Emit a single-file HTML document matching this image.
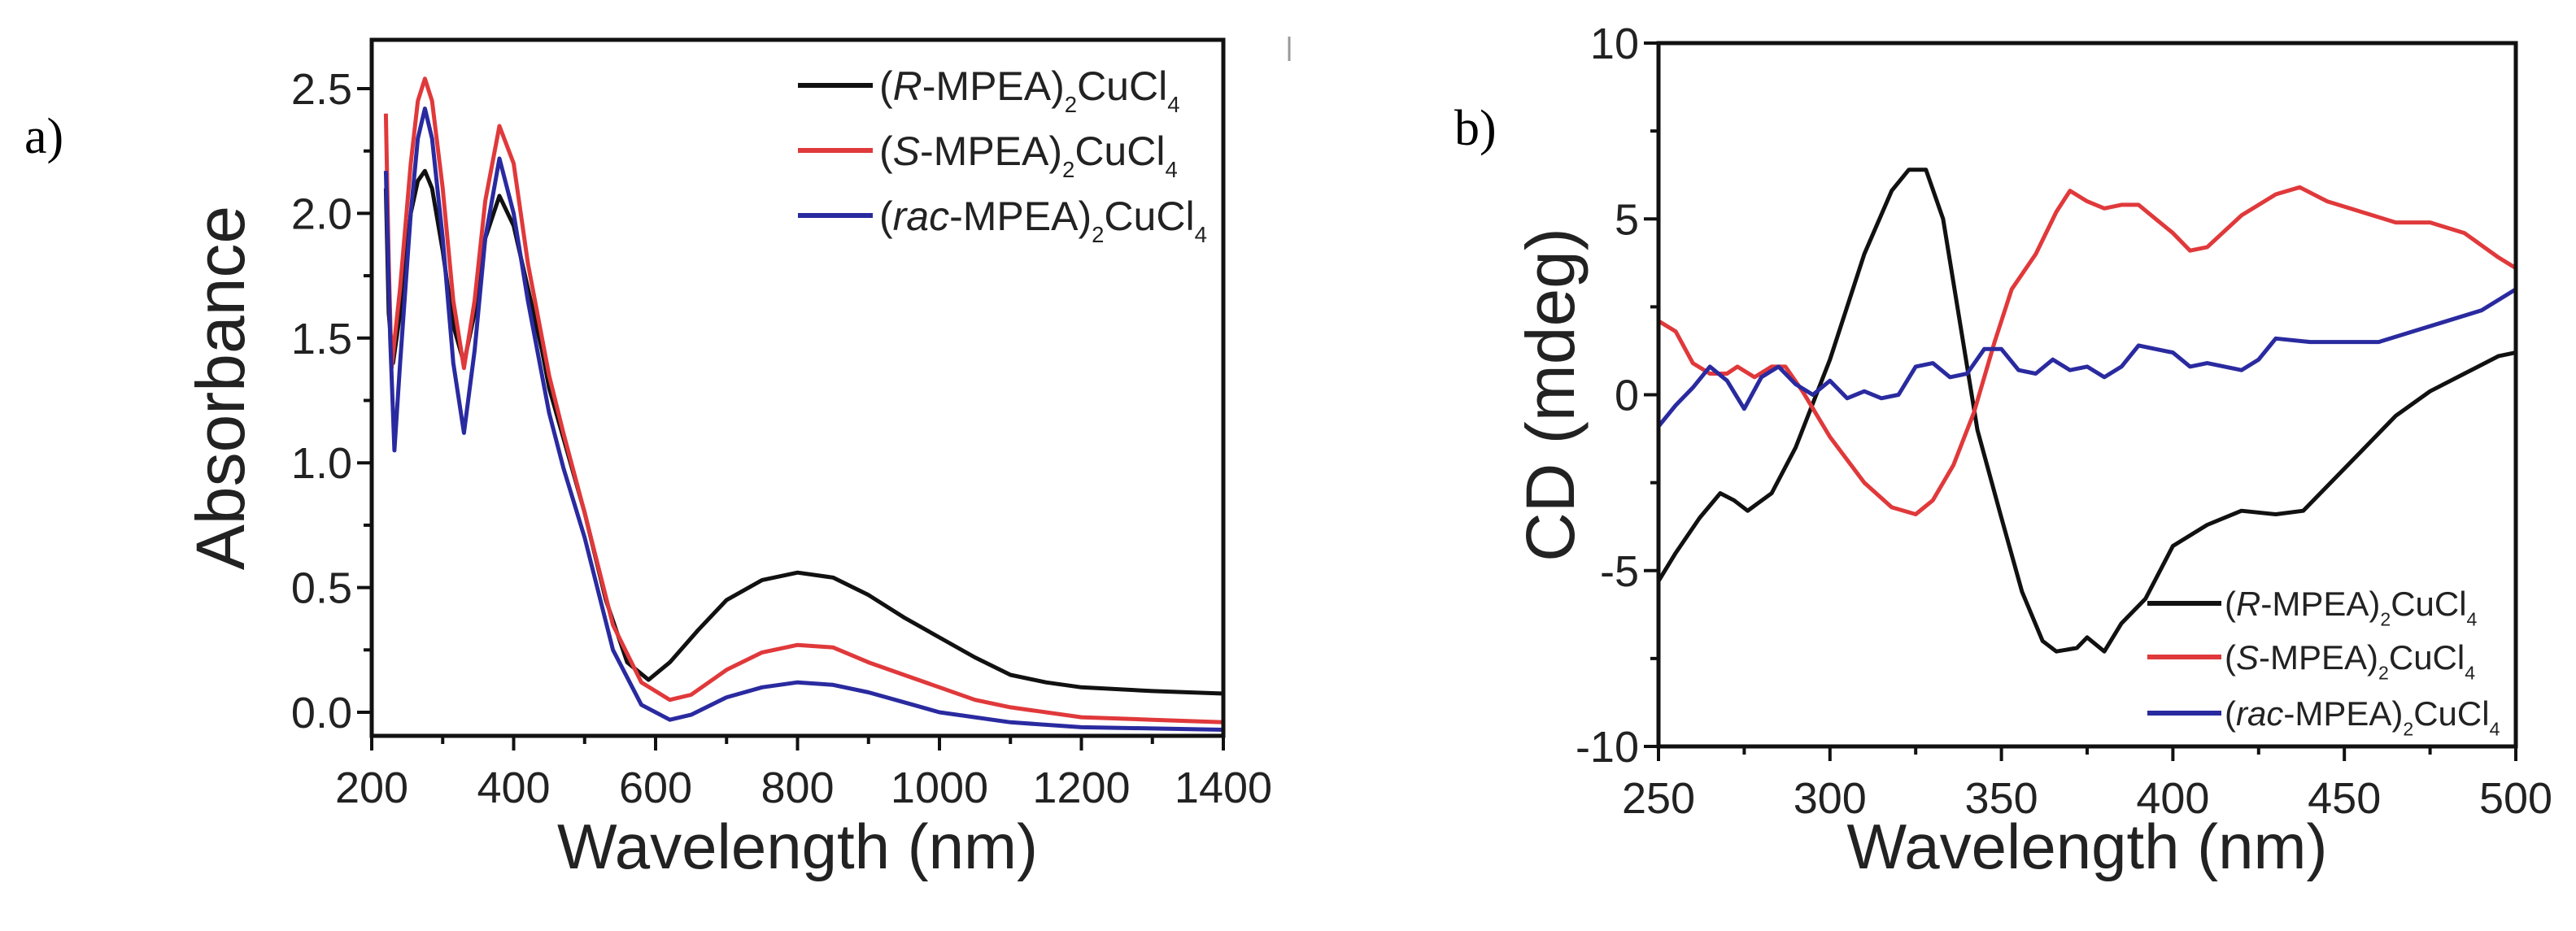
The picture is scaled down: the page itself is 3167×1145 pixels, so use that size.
<!DOCTYPE html>
<html><head><meta charset="utf-8"><style>
html,body{margin:0;padding:0;background:#fff;}
svg{display:block;font-family:"Liberation Sans",sans-serif;}
</style></head><body>
<svg id="fig" width="3167" height="1145" viewBox="0 0 3167 1145" xmlns="http://www.w3.org/2000/svg">
<text x="30" y="188" font-family="Liberation Serif,serif" font-size="62">a)</text>
<text x="1788" y="178" font-family="Liberation Serif,serif" font-size="62">b)</text>
<line x1="1585" y1="45" x2="1585" y2="75" stroke="#999" stroke-width="3"/>
<g id="pa"></g>
<g id="pb"></g>
</svg>
<script>
// Panel a data
const aTicksX = [200,400,600,800,1000,1200,1400];
const aTicksY = [0.0,0.5,1.0,1.5,2.0,2.5];
const aRx = [220,224,230,240,255,265,275,285,300,315,330,345,360,380,400,420,440,450,470,500,530,560,590,620,660,700,750,800,850,900,950,1000,1050,1100,1150,1200,1300,1400];
const aRy = [2.1,1.6,1.4,1.6,2.0,2.13,2.17,2.1,1.85,1.55,1.4,1.6,1.9,2.07,1.95,1.7,1.45,1.3,1.1,0.8,0.45,0.2,0.13,0.2,0.33,0.45,0.53,0.56,0.54,0.47,0.38,0.3,0.22,0.15,0.12,0.1,0.085,0.075];
const aSx = [220,224,228,240,255,265,275,285,300,315,330,345,360,380,400,420,440,450,470,500,540,580,620,650,700,750,800,850,900,950,1000,1050,1100,1200,1300,1400];
const aSy = [2.4,1.8,1.38,1.7,2.2,2.45,2.54,2.45,2.1,1.65,1.38,1.65,2.05,2.35,2.2,1.8,1.5,1.35,1.12,0.8,0.35,0.12,0.05,0.07,0.17,0.24,0.27,0.26,0.2,0.15,0.1,0.05,0.02,-0.02,-0.03,-0.04];
const aBx = [220,226,232,240,255,265,275,285,300,315,330,345,360,380,400,420,440,450,470,500,540,580,620,650,700,750,800,850,900,950,1000,1100,1200,1300,1400];
const aBy = [2.17,1.5,1.05,1.4,2.0,2.3,2.42,2.3,1.9,1.4,1.12,1.45,1.9,2.22,2.0,1.65,1.35,1.2,0.98,0.7,0.25,0.03,-0.03,-0.01,0.06,0.1,0.12,0.11,0.08,0.04,0.0,-0.04,-0.06,-0.065,-0.07];
// Panel b data
const bTicksX = [250,300,350,400,450,500];
const bTicksY = [-10,-5,0,5,10];
const bRx = [250,255,262,268,272,276,283,290,300,310,318,323,328,333,338,343,350,356,362,366,372,375,380,385,392,400,410,420,430,438,445,455,465,475,485,495,500];
const bRy = [-5.3,-4.5,-3.5,-2.8,-3.0,-3.3,-2.8,-1.5,1.0,4.0,5.8,6.4,6.4,5.0,2.0,-1.0,-3.5,-5.6,-7.0,-7.3,-7.2,-6.9,-7.3,-6.5,-5.8,-4.3,-3.7,-3.3,-3.4,-3.3,-2.6,-1.6,-0.6,0.1,0.6,1.1,1.2];
const bSx = [250,255,260,265,270,273,278,283,287,292,300,310,318,325,330,336,342,348,353,360,366,370,375,380,385,390,395,400,405,410,420,430,437,445,455,465,475,485,495,500];
const bSy = [2.1,1.8,0.9,0.6,0.6,0.8,0.5,0.8,0.8,0.1,-1.2,-2.5,-3.2,-3.4,-3.0,-2.0,-0.5,1.5,3.0,4.0,5.2,5.8,5.5,5.3,5.4,5.4,5.0,4.6,4.1,4.2,5.1,5.7,5.9,5.5,5.2,4.9,4.9,4.6,3.9,3.6];
const bBx = [250,255,260,265,270,275,280,285,290,295,300,305,310,315,320,325,330,335,340,345,350,355,360,365,370,375,380,385,390,395,400,405,410,420,425,430,440,450,460,470,480,490,500];
const bBy = [-0.9,-0.3,0.2,0.8,0.4,-0.4,0.5,0.8,0.3,0.0,0.4,-0.1,0.1,-0.1,0.0,0.8,0.9,0.5,0.6,1.3,1.3,0.7,0.6,1.0,0.7,0.8,0.5,0.8,1.4,1.3,1.2,0.8,0.9,0.7,1.0,1.6,1.5,1.5,1.5,1.8,2.1,2.4,3.0];

const NS="http://www.w3.org/2000/svg";
function mk(parent,tag,attrs){const e=document.createElementNS(NS,tag);for(const k in attrs)e.setAttribute(k,attrs[k]);parent.appendChild(e);return e;}

function drawPanel(g,o){
  const sx=v=>o.x0+(v-o.xmin)/(o.xmax-o.xmin)*(o.x1-o.x0);
  const sy=v=>o.ybot+(v-o.ymin)/(o.ymax-o.ymin)*(o.ytop-o.ybot);
  o.series.forEach(s=>{
    const d=s.x.map((v,i)=>(i?'L':'M')+sx(v).toFixed(1)+','+sy(s.y[i]).toFixed(1)).join(' ');
    const p=mk(g,'path',{d:d,fill:'none',stroke:s.c,'stroke-width':5,'stroke-linejoin':'round'});
    
    
  });
  const fr=mk(g,'rect',{x:o.x0,y:o.top,width:o.x1-o.x0,height:o.bot-o.top,fill:'none',stroke:'#111','stroke-width':5});
  
  
  for(let i=0;i<o.xticks.length;i++){
    const x=sx(o.xticks[i]);
    mk(g,'line',{x1:x,y1:o.bot,x2:x,y2:o.bot+18,stroke:'#111','stroke-width':4});
    if(i<o.xticks.length-1){const xm=sx((o.xticks[i]+o.xticks[i+1])/2);mk(g,'line',{x1:xm,y1:o.bot,x2:xm,y2:o.bot+10,stroke:'#111','stroke-width':4});}
    const t=mk(g,'text',{x:x,y:o.bot+82,'font-size':54,'text-anchor':'middle',fill:'#222'});
    t.textContent=o.xlab(o.xticks[i]);
    
    
  }
  for(let i=0;i<o.yticks.length;i++){
    const y=sy(o.yticks[i]);
    mk(g,'line',{x1:o.x0,y1:y,x2:o.x0-18,y2:y,stroke:'#111','stroke-width':4});
    if(i<o.yticks.length-1){const ym=sy((o.yticks[i]+o.yticks[i+1])/2);mk(g,'line',{x1:o.x0,y1:ym,x2:o.x0-10,y2:ym,stroke:'#111','stroke-width':4});}
    const t=mk(g,'text',{x:o.x0-24,y:y+19,'font-size':54,'text-anchor':'end',fill:'#222'});
    t.textContent=o.ylab(o.yticks[i]);
    
    
  }
  const xt=mk(g,'text',{x:(o.x0+o.x1)/2,y:1068,'font-size':78,'text-anchor':'middle',fill:'#222'});
  xt.textContent='Wavelength (nm)';
  
  
  const yt=mk(g,'text',{x:0,y:0,'font-size':o.yfs,'text-anchor':'middle',fill:'#222',transform:`translate(${o.ytx},${(o.top+o.bot)/2}) rotate(-90)`});
  yt.textContent=o.ytitle;
  
  
  o.series.forEach((s,i)=>{
    const y=o.leg.y[i];
    const l=mk(g,'line',{x1:o.leg.lx0,y1:y,x2:o.leg.lx1,y2:y,stroke:s.c,'stroke-width':6});
    
    
    const t=mk(g,'text',{x:o.leg.tx,y:y+o.leg.fs*0.36,'font-size':o.leg.fs,fill:'#222'});
    
    
    const pre=['R','S','rac'][i];
    t.innerHTML='(<tspan font-style="italic">'+pre+'</tspan>-MPEA)<tspan font-size="'+(o.leg.fs*0.55)+'" dy="'+(o.leg.fs*0.3)+'">2</tspan><tspan dy="'+(-o.leg.fs*0.3)+'">CuCl</tspan><tspan font-size="'+(o.leg.fs*0.55)+'" dy="'+(o.leg.fs*0.3)+'">4</tspan>';
  });
}
drawPanel(document.getElementById('pa'),{
  x0:457,x1:1504,top:49,bot:905,xmin:200,xmax:1400,ybot:876,ytop:109,ymin:0,ymax:2.5,
  xticks:aTicksX,yticks:aTicksY,xlab:v=>String(v),ylab:v=>v.toFixed(1),
  ytitle:'Absorbance',ytx:300,yfs:84,
  series:[{name:'r-mpea-line',x:aRx,y:aRy,c:'#111'},{name:'s-mpea-line',x:aSx,y:aSy,c:'#e0393b'},{name:'rac-mpea-line',x:aBx,y:aBy,c:'#2a2aa0'}],
  leg:{y:[105,185,265],lx0:981,lx1:1073,tx:1081,fs:50}
});
drawPanel(document.getElementById('pb'),{
  x0:2039,x1:3093,top:53,bot:918,xmin:250,xmax:500,ybot:918,ytop:53,ymin:-10,ymax:10,
  xticks:bTicksX,yticks:bTicksY,xlab:v=>String(v),ylab:v=>String(v),
  ytitle:'CD (mdeg)',ytx:1935,yfs:84,
  series:[{name:'r-mpea-cd-line',x:bRx,y:bRy,c:'#111'},{name:'s-mpea-cd-line',x:bSx,y:bSy,c:'#e0393b'},{name:'rac-mpea-cd-line',x:bBx,y:bBy,c:'#2a2aa0'}],
  leg:{y:[742,808,877],lx0:2640,lx1:2731,tx:2735,fs:42}
});
</script>
</body></html>
